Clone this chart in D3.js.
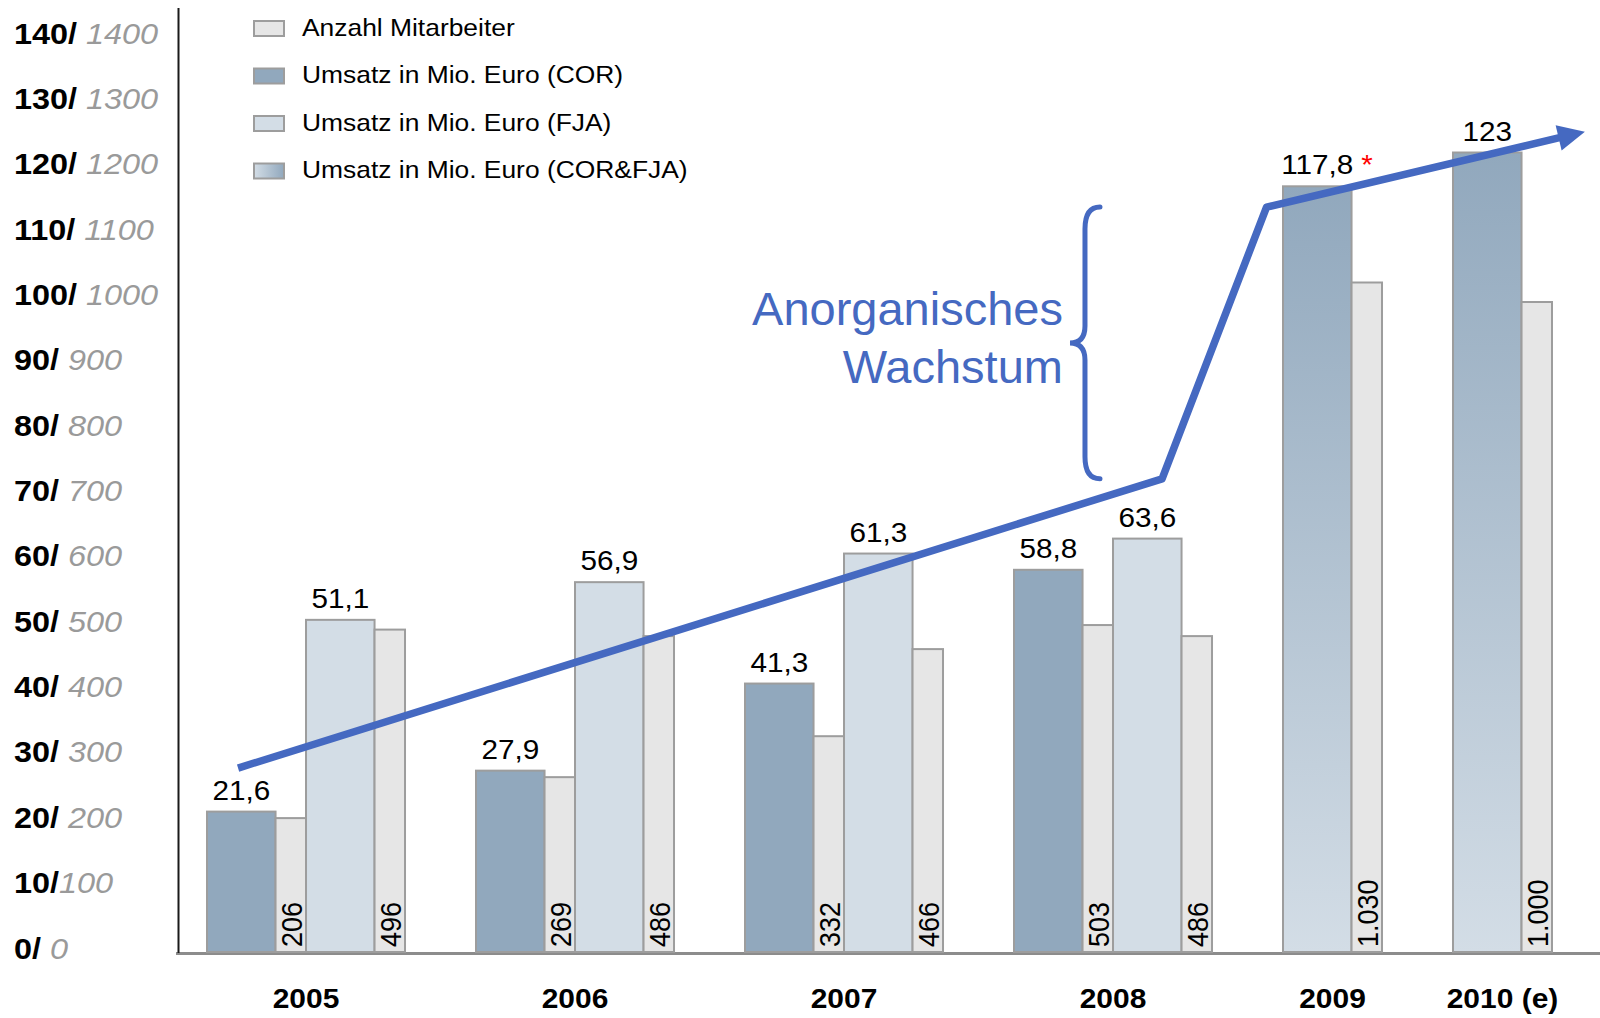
<!DOCTYPE html>
<html><head><meta charset="utf-8">
<script src="https://cdn.jsdelivr.net/npm/d3@7"></script>
<style>
body{margin:0;background:#fff}
svg{display:block}
text{font-family:"Liberation Sans",Arial,Helvetica,sans-serif}
</style>
</head><body>
<svg id="c" width="1600" height="1018"></svg>
<script>
// ---------------- data ----------------
const years = ["2005","2006","2007","2008","2009","2010 (e)"];
const umsatzCOR        = [21.6, 27.9, 41.3, 58.8, null, null];
const mitarbeiterCOR   = [206, 269, 332, 503, null, null];
const umsatzFJA        = [51.1, 56.9, 61.3, 63.6, null, null];
const mitarbeiterFJA   = [496, 486, 466, 486, null, null];
const umsatzGesamt     = [null, null, null, null, 117.8, 123];
const mitarbeiterGesamt= [null, null, null, null, 1030, 1000];
const footnoteMark     = [null, null, null, null, "*", null];
const yTicks = [0,10,20,30,40,50,60,70,80,90,100,110,120,130,140];
const legendLabels = ["Anzahl Mitarbeiter","Umsatz in Mio. Euro (COR)","Umsatz in Mio. Euro (FJA)","Umsatz in Mio. Euro (COR&FJA)"];
const trendPos = [1.02, 31.35, 34.78, 45.23];   // position along the category axis (bar units)
const trendVal = [28.3, 72.8, 114.6, 126.2];     // value (Mio. Euro)
const annotationLines = ["Anorganisches","Wachstum"];

// ---------------- style ----------------
const C = {cor:"#91a8bd", fja:"#d3dde6", emp:"#e6e6e6", stroke:"#9d9d9d", blue:"#4569c1", grey:"#9a9a9a"};
const W = {main:2.25, emp:1, gap:2.33};

const svg = d3.select("#c");
const defs = svg.append("defs");
const gv = defs.append("linearGradient").attr("id","gradV").attr("x1",0).attr("y1",0).attr("x2",0).attr("y2",1);
gv.append("stop").attr("offset","0%").attr("stop-color",C.cor);
gv.append("stop").attr("offset","100%").attr("stop-color",C.fja);
const gh = defs.append("linearGradient").attr("id","gradH").attr("x1",0).attr("y1",0).attr("x2",1).attr("y2",0);
gh.append("stop").attr("offset","0%").attr("stop-color",C.fja);
gh.append("stop").attr("offset","100%").attr("stop-color",C.cor);

const fmt = d3.formatLocale({decimal:",", thousands:".", grouping:[3], currency:["","€"]});
const fVal = fmt.format(",.1~f");
const fEmp = fmt.format(",d");

// build bar list
const bars = [];
const groups = [];
let u = 0;
years.forEach((yr,i)=>{
  const start = u;
  const add = (type, v, label, w) => { bars.push({type, v, label, u0:u, u1:u+w, i}); u += w; };
  if (umsatzCOR[i] != null){ add("cor", umsatzCOR[i], fVal(umsatzCOR[i]), W.main); add("emp", mitarbeiterCOR[i]/10, fEmp(mitarbeiterCOR[i]), W.emp); }
  if (umsatzFJA[i] != null){ add("fja", umsatzFJA[i], fVal(umsatzFJA[i]), W.main); add("emp", mitarbeiterFJA[i]/10, fEmp(mitarbeiterFJA[i]), W.emp); }
  if (umsatzGesamt[i] != null){ add("comb", umsatzGesamt[i], fVal(umsatzGesamt[i]), W.main); add("emp", mitarbeiterGesamt[i]/10, fEmp(mitarbeiterGesamt[i]), W.emp); }
  groups.push({year:yr, u0:start, u1:u});
  if (i < years.length-1) u += W.gap;
});
const totalU = u;

const x = d3.scaleLinear().domain([0,totalU]).range([207,1552]);
const y = d3.scaleLinear().domain([0,140]).range([952,42]);
const yLab = d3.scaleLinear().domain([0,140]).range([948,33]);

function stretched(sel, px, py, sx, extra){
  sel.attr("transform", `translate(${px},${py}) scale(${sx},1)` + (extra||""));
  return sel;
}

// axes lines
svg.append("line").attr("x1",176).attr("x2",1600).attr("y1",y(0)+1.5).attr("y2",y(0)+1.5)
  .attr("stroke","#8c8c8c").attr("stroke-width",3);
svg.append("line").attr("x1",178.5).attr("x2",178.5).attr("y1",8).attr("y2",y(0)+1)
  .attr("stroke","#1a1a1a").attr("stroke-width",2);

// y tick labels
yTicks.forEach(v=>{
  const t = svg.append("text").attr("font-size",30).attr("dominant-baseline","central");
  stretched(t, 14, yLab(v), 1.08);
  t.append("tspan").attr("font-weight","bold").attr("fill","#000").text(v+"/");
  t.append("tspan").attr("font-style","italic").attr("fill",C.grey).attr("dx", v===10?0:8.3).text(v*10);
});

// bars
const fillOf = d => d.type==="cor"?C.cor : d.type==="fja"?C.fja : d.type==="comb"?"url(#gradV)" : C.emp;
svg.append("g").selectAll("rect").data(bars).join("rect")
  .attr("x", d=>x(d.u0)).attr("width", d=>x(d.u1)-x(d.u0))
  .attr("y", d=>y(d.v)).attr("height", d=>y(0)-y(d.v))
  .attr("fill", fillOf).attr("stroke", C.stroke).attr("stroke-width",2);

// trend arrow
const pts = trendPos.map((p,k)=>[x(p), y(trendVal[k])]);
const T = pts[pts.length-1], Pm = pts[pts.length-2];
const len = Math.hypot(T[0]-Pm[0], T[1]-Pm[1]);
const dx = (T[0]-Pm[0])/len, dy = (T[1]-Pm[1])/len;
const headL = 27, headW = 13;
const B = [T[0]-dx*headL, T[1]-dy*headL];
const linePts = pts.slice(0,-1).concat([[B[0]+dx*2, B[1]+dy*2]]);
svg.append("path").attr("d", d3.line()(linePts)).attr("fill","none")
  .attr("stroke",C.blue).attr("stroke-width",7.5).attr("stroke-linejoin","round");
svg.append("path").attr("d", d3.line()([T,[B[0]-dy*headW,B[1]+dx*headW],[B[0]+dy*headW,B[1]-dx*headW]])+"Z")
  .attr("fill",C.blue);

// brace between the two trend levels
const yTop = y(trendVal[2]), yBot = y(trendVal[1]);
const xs = x(28.82), ym = (yTop+yBot)/2;
const bp = d3.path();
bp.moveTo(xs+15, yTop);
bp.quadraticCurveTo(xs, yTop, xs, yTop+22);
bp.lineTo(xs, ym-17);
bp.quadraticCurveTo(xs, ym, xs-15, ym);
bp.quadraticCurveTo(xs, ym, xs, ym+17);
bp.lineTo(xs, yBot-22);
bp.quadraticCurveTo(xs, yBot, xs+15, yBot);
svg.append("path").attr("d", bp.toString()).attr("fill","none").attr("stroke",C.blue)
  .attr("stroke-width",5).attr("stroke-linecap","round");
svg.append("g").selectAll("text").data(annotationLines).join("text")
  .attr("x", xs-22).attr("y",(d,k)=> ym - 18 + k*57.7)
  .attr("text-anchor","end").attr("font-size",47).attr("fill",C.blue).text(d=>d);

// value labels on revenue bars
bars.filter(d=>d.type!=="emp").forEach(d=>{
  const cx = (x(d.u0)+x(d.u1))/2;
  const t = svg.append("text").attr("font-size",27).attr("text-anchor","middle").attr("fill","#000").text(d.label);
  stretched(t, cx, y(d.v)-12, 1.1);
  const mark = footnoteMark[d.i];
  if (mark && d.type==="comb"){
    const w = t.node().getComputedTextLength()*1.1;
    const m = svg.append("text").attr("font-size",27).attr("fill","#ff0000").text(mark);
    stretched(m, cx + w/2 + 8, y(d.v)-12, 1.1);
  }
});

// rotated employee labels
bars.filter(d=>d.type==="emp").forEach(d=>{
  const t = svg.append("text").attr("font-size",27).attr("fill","#000").text(d.label);
  stretched(t, x(d.u1)-4, y(0)-5, 1.1, " rotate(-90)");
});

// year labels
groups.forEach(g=>{
  const t = svg.append("text").attr("font-size",28).attr("font-weight","bold").attr("text-anchor","middle").text(g.year);
  stretched(t, (x(g.u0)+x(g.u1))/2, 1008, 1.07);
});

// legend
const legFill = [C.emp, C.cor, C.fja, "url(#gradH)"];
legendLabels.forEach((lab,k)=>{
  const cy = 28.5 + k*47.5;
  svg.append("rect").attr("x",254).attr("y",cy-7.5).attr("width",30).attr("height",15)
    .attr("fill",legFill[k]).attr("stroke",C.stroke).attr("stroke-width",2);
  const t = svg.append("text").attr("font-size",24).attr("fill","#000").text(lab);
  stretched(t, 302, cy+7, 1.1);
});
</script>
</body></html>
